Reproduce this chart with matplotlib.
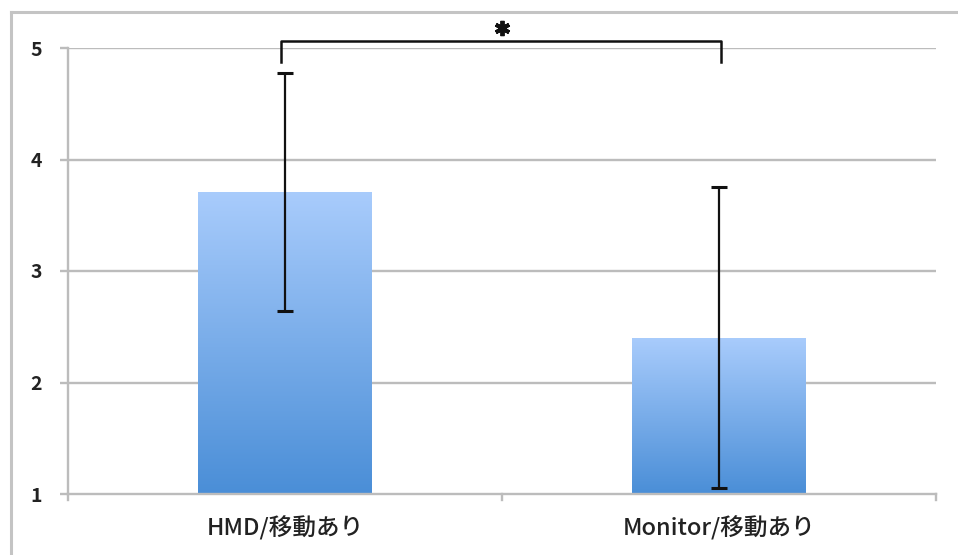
import numpy as np
import matplotlib
matplotlib.use("Agg")
import matplotlib.pyplot as plt
from matplotlib.lines import Line2D
from matplotlib.colors import LinearSegmentedColormap

plt.rcParams['font.family'] = ['Noto Sans CJK JP', 'DejaVu Sans']

categories = ["HMD/移動あり", "Monitor/移動あり"]
means = [3.71, 2.40]
sds = [1.07, 1.35]
y_ticks = [1, 2, 3, 4, 5]

fig = plt.figure(figsize=(9.58, 5.55), dpi=100)
ax = fig.add_axes([68 / 958, 61 / 555, 868 / 958, 446 / 555])

grid_color = "#bcbcbc"
x = np.arange(len(categories))
ax.set_xlim(-0.5, len(categories) - 0.5)
ax.set_ylim(1, 5)

# horizontal gridlines
for t in y_ticks[1:]:
    ax.axhline(t, color=grid_color, lw=1.7, zorder=0)

# bars with vertical gradient fill
cmap = LinearSegmentedColormap.from_list("blues", ["#4a8ed7", "#a9ccfc"])
grad = np.linspace(0, 1, 256).reshape(-1, 1)
bar_w = 0.40
bars = ax.bar(x, [m - 1 for m in means], bottom=1, width=bar_w,
              color="none", edgecolor="none", zorder=2)
for b in bars:
    x0, y0 = b.get_x(), b.get_y()
    w, h = b.get_width(), b.get_height()
    im = ax.imshow(grad, cmap=cmap, origin="lower", aspect="auto",
                   extent=[x0, x0 + w, y0, y0 + h], zorder=2,
                   interpolation="bilinear")
    im.set_clip_path(b)

# error bars
ax.errorbar(x, means, yerr=sds, fmt="none", ecolor="#111111", elinewidth=1.6,
            capsize=6, capthick=2.2, zorder=3)

# axes styling
for s in ["top", "right"]:
    ax.spines[s].set_visible(False)
ax.spines["left"].set_color(grid_color)
ax.spines["bottom"].set_color(grid_color)
ax.spines["left"].set_linewidth(1.7)
ax.spines["bottom"].set_linewidth(1.7)

ax.set_yticks(y_ticks)
ax.set_yticklabels([str(t) for t in y_ticks], fontsize=14, fontweight="bold",
                   color="#222222")
ax.tick_params(axis="y", length=6, width=1.7, color=grid_color, pad=13)

ax.set_xticks(x)
ax.set_xticklabels(categories, fontsize=17, fontweight="medium",
                   color="#222222")
ax.tick_params(axis="x", length=0, pad=16)
# category boundary ticks
for bx in [-0.5, 0.5, 1.5]:
    ax.plot([bx, bx], [1, 0.95], color=grid_color, lw=1.7, clip_on=False,
            zorder=1)

# significance bracket
y_br, y_leg = 5.063, 4.874
ax.plot([x[0] - 0.01, x[0] - 0.01, x[1] + 0.005, x[1] + 0.005],
        [y_leg, y_br, y_br, y_leg], color="#111111", lw=1.8, clip_on=False,
        zorder=4)
ax.plot([(x[0] + x[1]) / 2], [5.18], marker=(6, 2, 0), markersize=11,
        markeredgewidth=2.8, color="#111111", clip_on=False, zorder=4)

# outer frame
fig.add_artist(Line2D([11 / 958, 1], [1 - 12 / 555, 1 - 12 / 555],
                      transform=fig.transFigure, color="#c4c4c4", lw=2.2))
fig.add_artist(Line2D([11 / 958, 11 / 958], [0, 1 - 12 / 555],
                      transform=fig.transFigure, color="#c4c4c4", lw=2.2))

fig.savefig("out.png", dpi=100)
